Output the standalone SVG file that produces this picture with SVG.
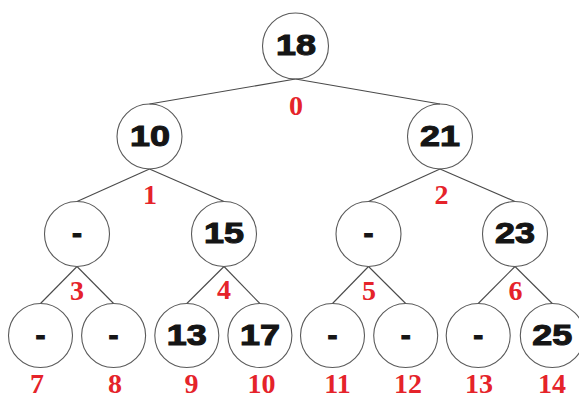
<svg xmlns="http://www.w3.org/2000/svg" width="579" height="399" viewBox="0 0 579 399">
<style>
.nd{fill:none;stroke:#5a5a5a;stroke-width:1.1}
.v{font-family:"Liberation Sans",Arial,sans-serif;font-weight:bold;font-size:30px;fill:#151515;stroke:#151515;stroke-width:1.1;text-anchor:middle}
.ix{font-family:"Liberation Serif","Times New Roman",serif;font-weight:bold;font-size:28px;fill:#e5232a;text-anchor:middle}
#edges line{stroke:#4a4a4a;stroke-width:1.1}
</style>
<rect width="579" height="399" fill="#ffffff"/>
<g id="edges">
<line x1="295.5" y1="79" x2="149.5" y2="104"/>
<line x1="295.5" y1="79" x2="440" y2="104"/>
<line x1="149.5" y1="169" x2="77" y2="201.5"/>
<line x1="149.5" y1="169" x2="224" y2="201.5"/>
<line x1="440" y1="169" x2="368.5" y2="201.5"/>
<line x1="440" y1="169" x2="515" y2="201.5"/>
<line x1="77" y1="266.5" x2="40.5" y2="303.5"/>
<line x1="77" y1="266.5" x2="113.6" y2="303.5"/>
<line x1="224" y1="266.5" x2="186.8" y2="303.5"/>
<line x1="224" y1="266.5" x2="259.9" y2="303.5"/>
<line x1="368.5" y1="266.5" x2="332.5" y2="303.5"/>
<line x1="368.5" y1="266.5" x2="405.7" y2="303.5"/>
<line x1="515" y1="266.5" x2="478.2" y2="303.5"/>
<line x1="515" y1="266.5" x2="552.3" y2="303.5"/>
</g>
<g id="n0"><circle class="nd" cx="295.5" cy="46" r="33"/><text class="v" x="296" y="55" textLength="40" lengthAdjust="spacingAndGlyphs">18</text><text class="ix" x="296" y="115">0</text></g>
<g id="n1"><circle class="nd" cx="149.5" cy="136.5" r="32.5"/><text class="v" x="150" y="145.5" textLength="40" lengthAdjust="spacingAndGlyphs">10</text><text class="ix" x="150" y="204">1</text></g>
<g id="n2"><circle class="nd" cx="440" cy="136.5" r="32.5"/><text class="v" x="440" y="145.5" textLength="40" lengthAdjust="spacingAndGlyphs">21</text><text class="ix" x="441.5" y="203.5">2</text></g>
<g id="n3"><circle class="nd" cx="77" cy="234" r="32.5"/><text class="v" x="77" y="243">-</text><text class="ix" x="77" y="300">3</text></g>
<g id="n4"><circle class="nd" cx="224" cy="234" r="32.5"/><text class="v" x="224" y="243" textLength="40" lengthAdjust="spacingAndGlyphs">15</text><text class="ix" x="224" y="299">4</text></g>
<g id="n5"><circle class="nd" cx="368.5" cy="234" r="32.5"/><text class="v" x="368.5" y="243">-</text><text class="ix" x="369" y="300">5</text></g>
<g id="n6"><circle class="nd" cx="515" cy="234" r="32.5"/><text class="v" x="515" y="243" textLength="40" lengthAdjust="spacingAndGlyphs">23</text><text class="ix" x="515.5" y="300">6</text></g>
<g id="n7"><circle class="nd" cx="40.5" cy="335.5" r="32"/><text class="v" x="40.5" y="344.5">-</text><text class="ix" x="37" y="392.5">7</text></g>
<g id="n8"><circle class="nd" cx="113.6" cy="335.5" r="32"/><text class="v" x="113.6" y="344.5">-</text><text class="ix" x="115" y="392.5">8</text></g>
<g id="n9"><circle class="nd" cx="186.8" cy="335.5" r="32"/><text class="v" x="186.8" y="344.5" textLength="40" lengthAdjust="spacingAndGlyphs">13</text><text class="ix" x="191.5" y="392.5">9</text></g>
<g id="n10"><circle class="nd" cx="259.9" cy="335.5" r="32"/><text class="v" x="259.9" y="344.5" textLength="40" lengthAdjust="spacingAndGlyphs">17</text><text class="ix" x="261.5" y="392.5">10</text></g>
<g id="n11"><circle class="nd" cx="332.5" cy="335.5" r="32"/><text class="v" x="332.5" y="344.5">-</text><text class="ix" x="337.5" y="392.5">11</text></g>
<g id="n12"><circle class="nd" cx="405.7" cy="335.5" r="32"/><text class="v" x="405.7" y="344.5">-</text><text class="ix" x="408" y="392.5">12</text></g>
<g id="n13"><circle class="nd" cx="478.2" cy="335.5" r="32"/><text class="v" x="478.2" y="344.5">-</text><text class="ix" x="479" y="392.5">13</text></g>
<g id="n14"><circle class="nd" cx="552.3" cy="335.5" r="32"/><text class="v" x="552.3" y="344.5" textLength="40" lengthAdjust="spacingAndGlyphs">25</text><text class="ix" x="552" y="392.5">14</text></g>
</svg>
